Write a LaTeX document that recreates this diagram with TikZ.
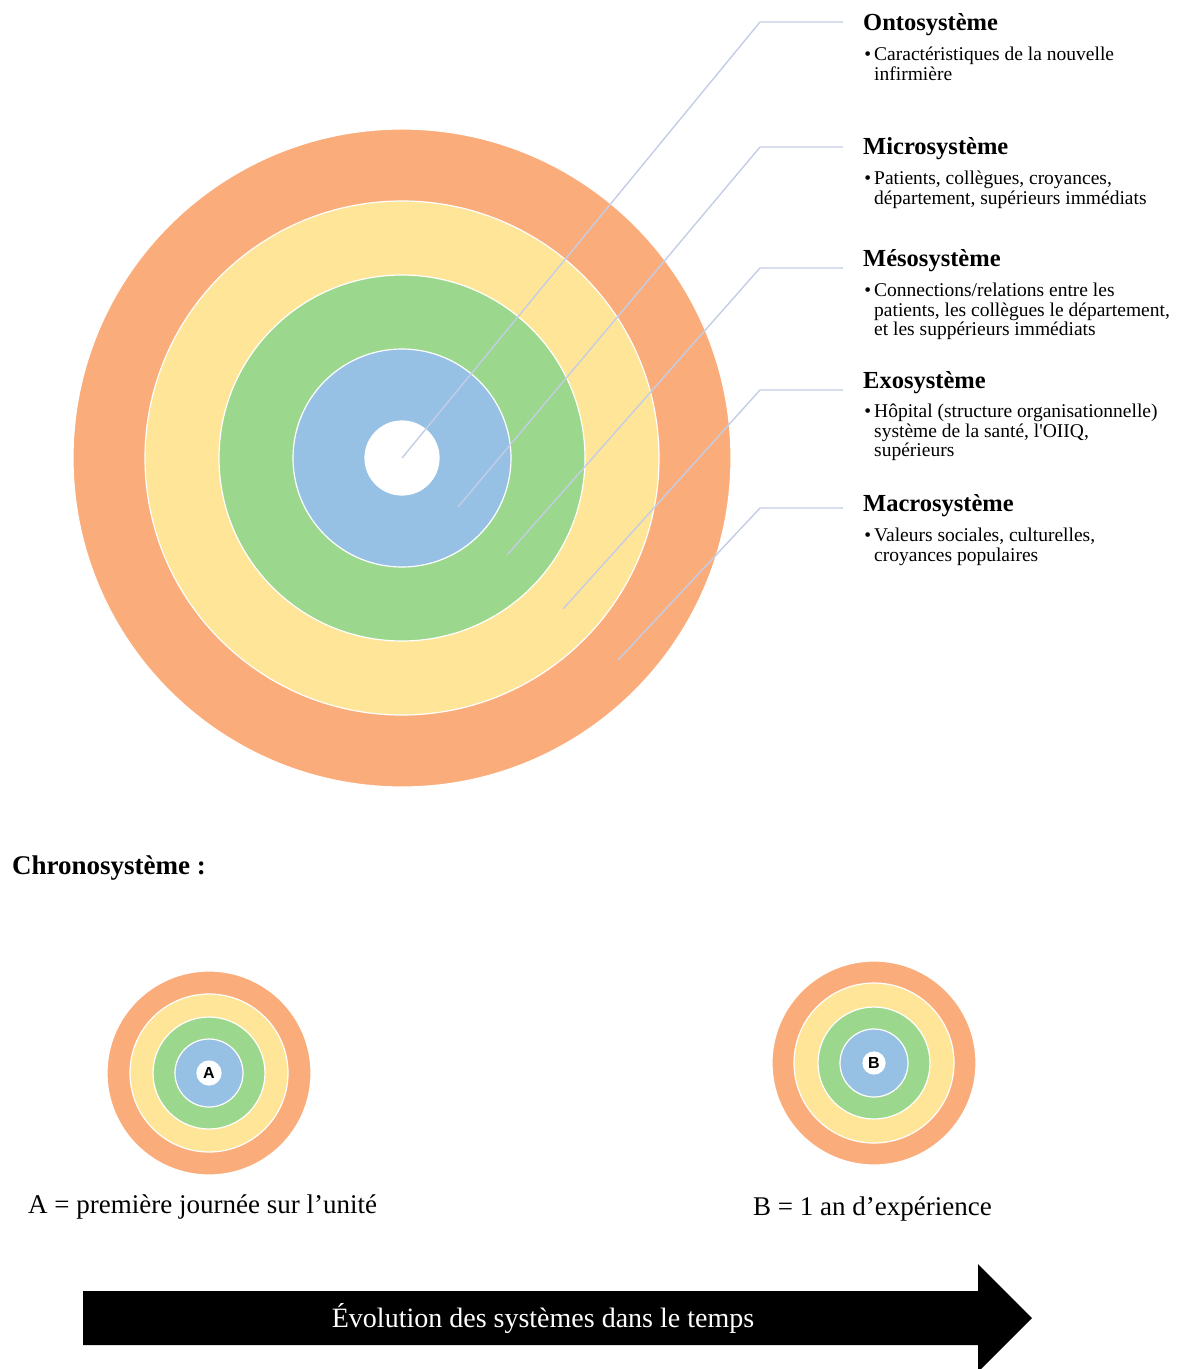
\documentclass[tikz,border=0pt]{standalone}
\usepackage{fontspec}
\setmainfont{Liberation Serif}
\newfontfamily\lblsans{Liberation Sans}
\definecolor{ringO}{HTML}{FBAC7B}
\definecolor{ringY}{HTML}{FFE598}
\definecolor{ringG}{HTML}{9BD78C}
\definecolor{ringB}{HTML}{96C1E5}
\definecolor{leader}{HTML}{C4CDE6}
\begin{document}
\begin{tikzpicture}[x=1pt,y=-1pt,
  ring/.style={circle, draw=white, line width=1.2pt, inner sep=0pt},
  ttl/.style={anchor=base west, inner sep=0pt, font=\fontsize{24.5}{28}\selectfont\bfseries},
  bul/.style={anchor=base west, inner sep=0pt, font=\fontsize{19.5}{20}\selectfont},
  lead/.style={draw=leader, line width=1.4pt},
  lbl/.style={anchor=base west, inner sep=0pt, font=\fontsize{27}{30}\selectfont}]
\useasboundingbox (0,0) rectangle (1177,1369);
% main rings
\node[ring, fill=ringO, minimum size=658pt] (macro) at (402,458) {};
\node[ring, fill=ringY, minimum size=514pt] (exo) at (402,458) {};
\node[ring, fill=ringG, minimum size=366pt] (meso) at (402,458) {};
\node[ring, fill=ringB, minimum size=218pt] (micro) at (402,458) {};
\node[ring, fill=white, minimum size=74pt] (onto) at (402,458) {};
% titles and bullet texts
\node[ttl] (t1) at (863,30) {Ontosystème};
\node[bul] (t1a) at (874,60) {\llap{\textbullet\hspace{3pt}}Caractéristiques de la nouvelle};
\node[bul] (t1b) at (874,80) {infirmière};
\node[ttl] (t2) at (863,154) {Microsystème};
\node[bul] (t2a) at (874,184) {\llap{\textbullet\hspace{3pt}}Patients, collègues, croyances,};
\node[bul] (t2b) at (874,204) {département, supérieurs immédiats};
\node[ttl] (t3) at (863,266) {Mésosystème};
\node[bul] (t3a) at (874,296) {\llap{\textbullet\hspace{3pt}}Connections/relations entre les};
\node[bul] (t3b) at (874,316) {patients, les collègues le département,};
\node[bul] (t3c) at (874,335) {et les suppérieurs immédiats};
\node[ttl] (t4) at (863,388) {Exosystème};
\node[bul] (t4a) at (874,417) {\llap{\textbullet\hspace{3pt}}Hôpital (structure organisationnelle)};
\node[bul] (t4b) at (874,437) {système de la santé, l\textquotesingle OIIQ,};
\node[bul] (t4c) at (874,456) {supérieurs};
\node[ttl] (t5) at (863,511) {Macrosystème};
\node[bul] (t5a) at (874,541) {\llap{\textbullet\hspace{3pt}}Valeurs sociales, culturelles,};
\node[bul] (t5b) at (874,561) {croyances populaires};
% leader lines
\coordinate (s1) at (402,458); \coordinate (k1) at (760,22);  \coordinate (e1) at (843,22);
\coordinate (s2) at (458,507); \coordinate (k2) at (760,147); \coordinate (e2) at (843,147);
\coordinate (s3) at (507,555); \coordinate (k3) at (760,268); \coordinate (e3) at (843,268);
\coordinate (s4) at (563,609); \coordinate (k4) at (760,390); \coordinate (e4) at (843,390);
\coordinate (s5) at (618,660); \coordinate (k5) at (760,508); \coordinate (e5) at (843,508);
\draw[lead] (s1) -- (k1) -- (e1);
\draw[lead] (s2) -- (k2) -- (e2);
\draw[lead] (s3) -- (k3) -- (e3);
\draw[lead] (s4) -- (k4) -- (e4);
\draw[lead] (s5) -- (k5) -- (e5);
% chronosystem
\node[anchor=base west, inner sep=0pt, font=\fontsize{27}{30}\selectfont\bfseries] (chrono) at (12,874) {Chronosystème :};
% small circles A
\node[ring, fill=ringO, minimum size=204pt] (a5) at (209,1073) {};
\node[ring, fill=ringY, minimum size=158pt] (a4) at (209,1073) {};
\node[ring, fill=ringG, minimum size=112pt] (a3) at (209,1073) {};
\node[ring, fill=ringB, minimum size=68pt] (a2) at (209,1073) {};
\node[ring, fill=white, minimum size=24pt, font=\lblsans\bfseries\fontsize{16}{16}\selectfont] (a1) at (209,1073) {A};
% small circles B
\node[ring, fill=ringO, minimum size=204pt] (b5) at (874,1063) {};
\node[ring, fill=ringY, minimum size=160pt] (b4) at (874,1063) {};
\node[ring, fill=ringG, minimum size=112pt] (b3) at (874,1063) {};
\node[ring, fill=ringB, minimum size=68pt] (b2) at (874,1063) {};
\node[ring, fill=white, minimum size=22pt, font=\lblsans\bfseries\fontsize{16}{16}\selectfont] (b1) at (874,1063) {B};
% labels
\node[lbl] (la) at (28,1213) {A = première journée sur l’unité};
\node[lbl] (lb) at (753,1215) {B = 1 an d’expérience};
% arrow
\fill[black] (83,1291) -- (978,1291) -- (978,1264) -- (1032,1318) -- (978,1372) -- (978,1345) -- (83,1345) -- cycle;
\node[inner sep=0pt, text=white, font=\fontsize{28}{30}\selectfont] (evo) at (543,1318) {Évolution des systèmes dans le temps};
\end{tikzpicture}
\end{document}
